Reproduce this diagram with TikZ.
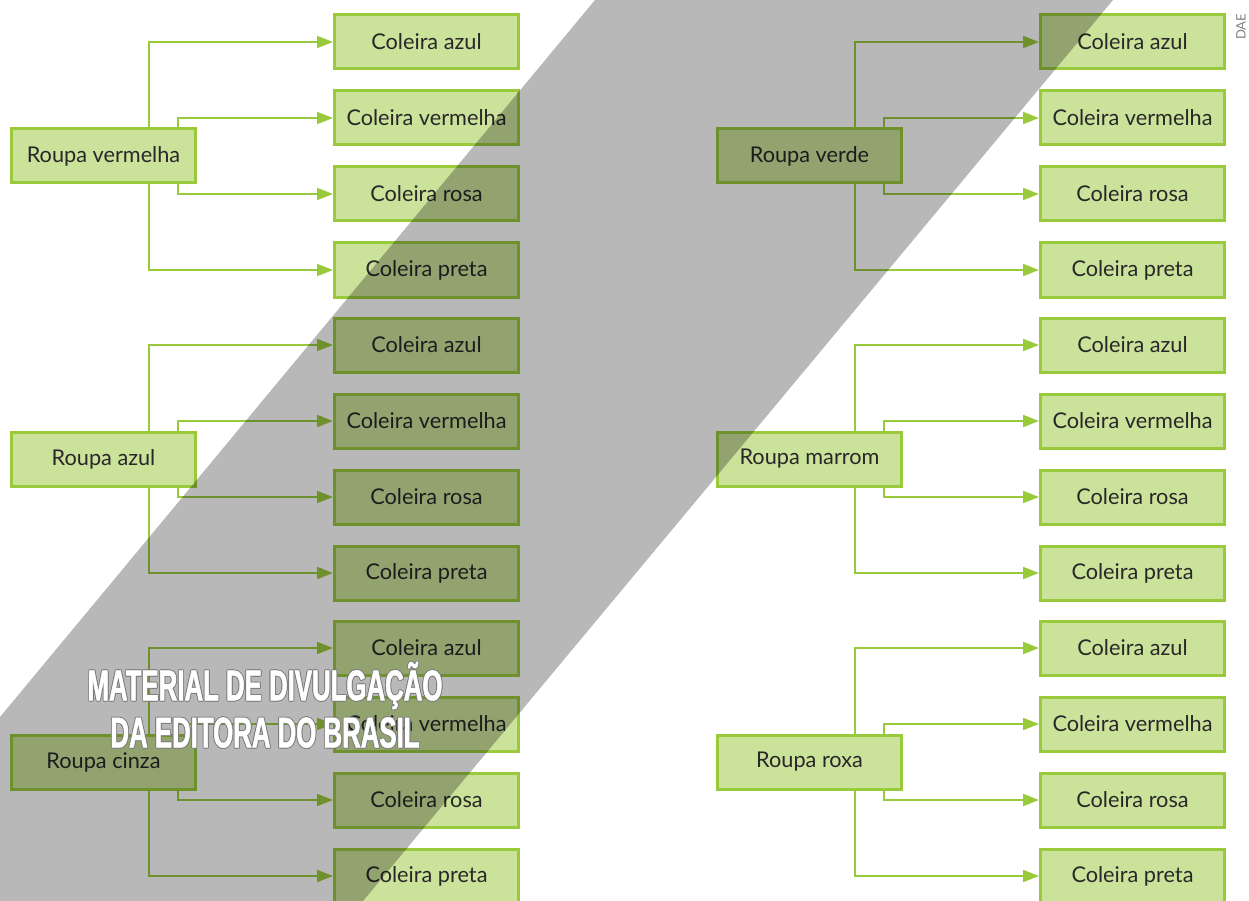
\documentclass[tikz,border=0pt]{standalone}
\usepackage{fontspec}
\setmainfont{Lato}
\newfontfamily\wmfont[FakeStretch=0.6,FakeBold=1.2]{Liberation Sans}
\usepackage{contour}
\contourlength{0.8pt}
\usetikzlibrary{positioning, arrows.meta}
\definecolor{folha}{RGB}{203,226,155}
\definecolor{borda}{RGB}{153,202,60}
\definecolor{texto}{RGB}{40,40,40}
\tikzset{
  roupa/.style={draw=borda, fill=folha, line width=3pt,
    minimum width=184pt, minimum height=54pt, text=texto,
    font=\fontsize{21.7}{26}\selectfont},
  coleira/.style={roupa},
  liga/.style={draw=borda, line width=2pt,
    -{Triangle[length=16pt,width=12pt]}},
}

\begin{document}
\begin{tikzpicture}[x=1pt,y=-1pt]
\useasboundingbox (0,0) rectangle (1249,901);
\foreach \p/\cor/\px/\py in {vermelha/Roupa vermelha/103.5/156,
    azul/Roupa azul/103.5/459, cinza/Roupa cinza/103.5/762,
    verde/Roupa verde/809.5/156, marrom/Roupa marrom/809.5/459,
    roxa/Roupa roxa/809.5/762}{
  \node[roupa] (\p) at (\px,\py) {\cor};
  \node[coleira, right=136pt of \p, yshift=114pt] (\p-1) {Coleira azul};
  \node[coleira, below=19pt of \p-1] (\p-2) {Coleira vermelha};
  \node[coleira, below=19pt of \p-2] (\p-3) {Coleira rosa};
  \node[coleira, below=19pt of \p-3] (\p-4) {Coleira preta};
  \draw[liga] ([xshift=45.5pt]\p.north) |- (\p-1);
  \draw[liga] ([xshift=74.5pt]\p.north) |- (\p-2);
  \draw[liga] ([xshift=74.5pt]\p.south) |- (\p-3);
  \draw[liga] ([xshift=45.5pt]\p.south) |- (\p-4);
}
% faixa cinza por cima
\fill[black, opacity=0.28] (595,0) -- (1113,0) -- (363,901) -- (0,901)
  -- (0,717) -- cycle;
\node[text=white, font=\wmfont\bfseries\fontsize{43}{43}\selectfont]
  (marca1) at (265,686) {\contour{gray}{MATERIAL DE DIVULGAÇÃO}};
\node[text=white, font=\wmfont\bfseries\fontsize{43}{43}\selectfont]
  (marca2) at (265,733) {\contour{gray}{DA EDITORA DO BRASIL}};
\node[rotate=90, text=gray, font=\fontsize{13}{15}\selectfont]
  (dae) at (1241,27) {DAE};
\end{tikzpicture}
\end{document}
